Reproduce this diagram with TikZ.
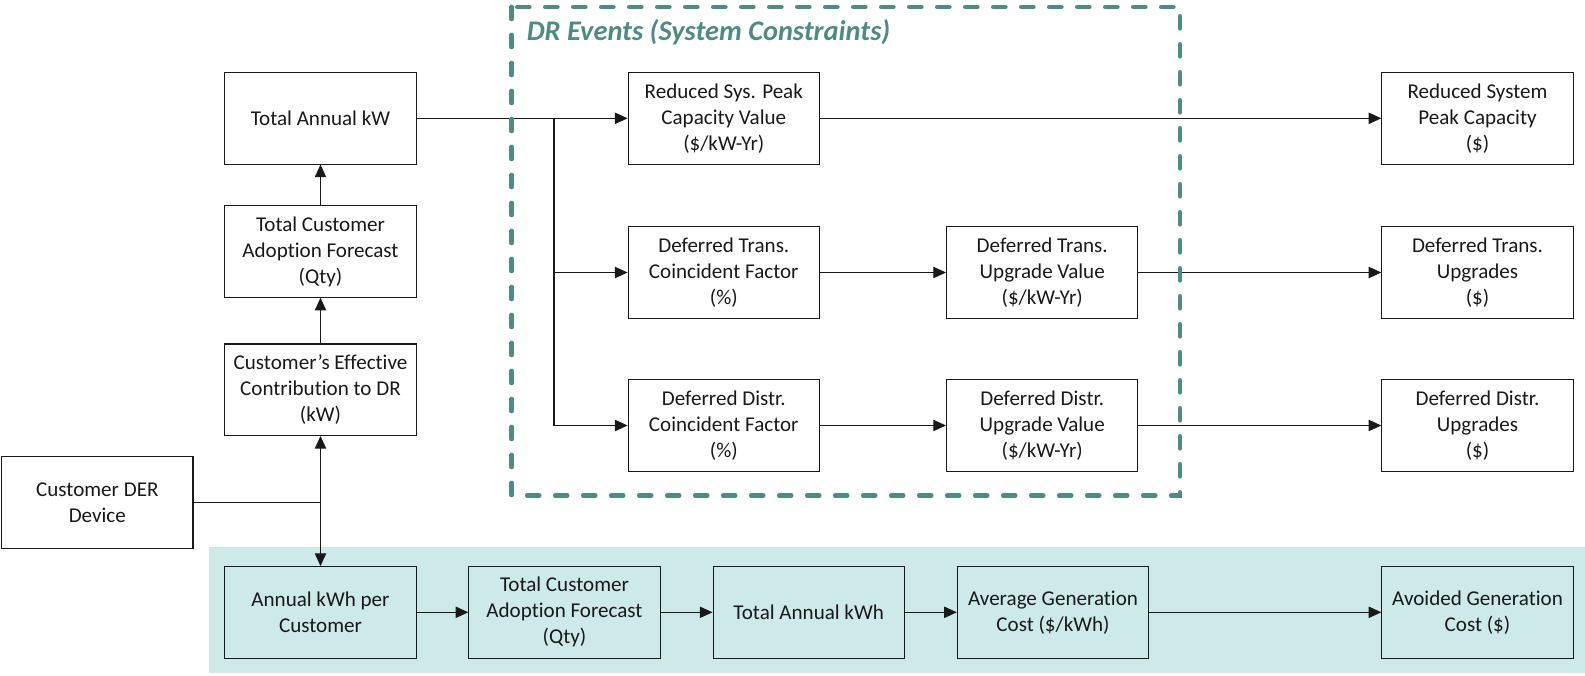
\documentclass[tikz,border=0pt]{standalone}
\usepackage{fontspec}
\setmainfont[Ligatures={NoCommon}]{Carlito}
\usetikzlibrary{arrows.meta}
\definecolor{tealdash}{RGB}{78,139,130}
\definecolor{bandfill}{RGB}{205,233,232}
\definecolor{ink}{RGB}{25,25,25}
\tikzset{
  box/.style={draw=ink, line width=0.8pt, minimum width=143.5pt, minimum height=68.6pt,
    align=center, inner sep=0pt, text=ink, font=\fontsize{15.8pt}{19.5pt}\selectfont},
  conn/.style={draw=ink, line width=0.8pt},
  arr/.style={conn, -{Triangle[length=9.5pt,width=8.5pt]}},
}
\begin{document}
\begin{tikzpicture}[x=0.75pt,y=-0.75pt]
\useasboundingbox (0,0) rectangle (1585,675);
% bottom band
\fill[bandfill] (209,546.7) rectangle (1585,673.3);
% left column
\node[box] (tak) at (320.5,118.3) {Total Annual kW};
\node[box] (tca) at (320.5,251.5) {Total Customer\\Adoption Forecast\\(Qty)};
\node[box] (ceff) at (320.5,389.7) {Customer’s Effective\\Contribution to DR\\(kW)};
\node[box] (der) at (97.3,502.5) {Customer DER\\Device};
% DR events
\node[box] (rsp) at (723.8,118.3) {Reduced Sys. Peak\\Capacity Value\\(\$/kW-Yr)};
\node[box] (dtc) at (723.8,272.5) {Deferred Trans.\\Coincident Factor\\(\%)};
\node[box] (dtu) at (1042.2,272.5) {Deferred Trans.\\Upgrade Value\\(\$/kW-Yr)};
\node[box] (ddc) at (723.8,425.5) {Deferred Distr.\\Coincident Factor\\(\%)};
\node[box] (ddu) at (1042.2,425.5) {Deferred Distr.\\Upgrade Value\\(\$/kW-Yr)};
% right outputs
\node[box] (rsc) at (1477.5,118.3) {Reduced System\\Peak Capacity\\(\$)};
\node[box] (dtg) at (1477.5,272.5) {Deferred Trans.\\Upgrades\\(\$)};
\node[box] (ddg) at (1477.5,425.5) {Deferred Distr.\\Upgrades\\(\$)};
% bottom row
\node[box] (akwh) at (320.5,612.3) {Annual kWh per\\Customer};
\node[box] (tca2) at (564.5,612.3) {Total Customer\\Adoption Forecast\\(Qty)};
\node[box] (takwh) at (808.7,612.3) {Total Annual kWh};
\node[box] (agc) at (1053,612.3) {Average Generation\\Cost (\$/kWh)};
\node[box] (avd) at (1477.5,612.3) {Avoided Generation\\Cost (\$)};
% connectors
\coordinate (br) at (554,118.3);
\coordinate (j) at (ceff.south |- der.east);
\draw[arr] (ceff) -- (tca);
\draw[arr] (tca) -- (tak);
\draw[arr] (tak) -- (rsp);
\draw[arr] (br) |- (dtc.west);
\draw[arr] (br) |- (ddc.west);
\draw[arr] (rsp) -- (rsc);
\draw[arr] (dtc) -- (dtu);
\draw[arr] (dtu) -- (dtg);
\draw[arr] (ddc) -- (ddu);
\draw[arr] (ddu) -- (ddg);
\draw[conn] (der.east) -- (j);
\draw[arr] (j) -- (ceff.south);
\draw[arr] (j) -- (akwh.north);
\draw[arr] (akwh) -- (tca2);
\draw[arr] (tca2) -- (takwh);
\draw[arr] (takwh) -- (agc);
\draw[arr] (agc) -- (avd);
% DR events frame
\draw[tealdash, line width=3.5pt, line cap=round, dash pattern=on 9pt off 12pt]
  (511.7,7) rectangle (1180,495.5);
\node[anchor=base west, inner sep=0pt, text=tealdash,
  font=\fontsize{21.3pt}{25pt}\selectfont\bfseries\itshape] (title) at (526.5,40) {DR Events (System Constraints)};
\end{tikzpicture}
\end{document}
